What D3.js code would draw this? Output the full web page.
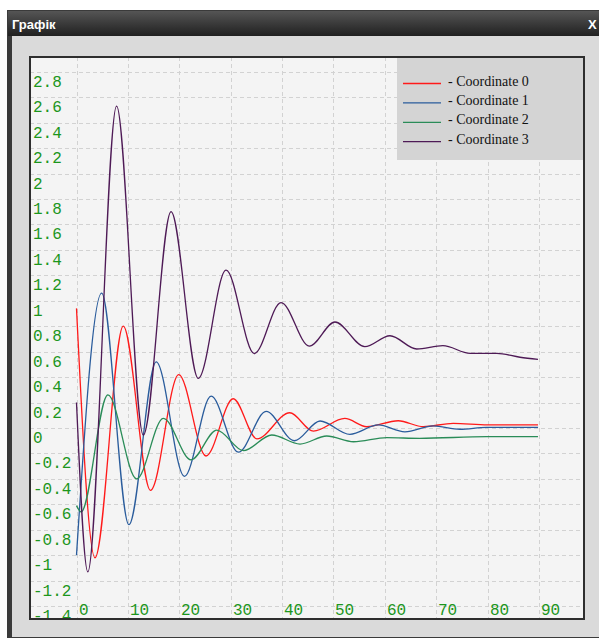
<!DOCTYPE html>
<html>
<head>
<meta charset="utf-8">
<script src="https://cdn.jsdelivr.net/npm/d3@7"></script>
<style>
  body { margin: 0; background: #ffffff; }
  svg { display: block; }
</style>
</head>
<body>
<div id="chart"></div>
<script>
// tick values of the plot
const xTicks = [0, 10, 20, 30, 40, 50, 60, 70, 80, 90];
const yTicks = [2.8, 2.6, 2.4, 2.2, 2, 1.8, 1.6, 1.4, 1.2, 1, 0.8, 0.6, 0.4, 0.2, 0,
  -0.2, -0.4, -0.6, -0.8, -1, -1.2, -1.4];

const seriesNames = ["Coordinate 0", "Coordinate 1", "Coordinate 2", "Coordinate 3"];
const seriesColors = ["#ff1a1a", "#2a5c9c", "#2a8c58", "#4e1a56"];

// [t, value] (turning points mostly)
const coord0 = [[0, 0.94], [3.6, -1.02], [9.1, 0.80], [14.4, -0.49], [19.9, 0.42], [25.2, -0.22],
  [30.5, 0.23], [35.1, -0.085], [41.5, 0.12], [46.1, -0.025], [52.2, 0.075], [56.5, 0.01],
  [62.6, 0.057], [67.5, 0.01], [73.3, 0.037], [80, 0.025], [89.8, 0.025]];
const coord1 = [[0, -1.0], [4.9, 1.06], [10.2, -0.76], [15.5, 0.52], [21.0, -0.38], [26.2, 0.25],
  [31.5, -0.19], [36.9, 0.13], [42.4, -0.10], [47.4, 0.055], [53.2, -0.05], [58.7, 0.024],
  [63.9, -0.03], [69.4, 0.016], [74.6, -0.01], [79.8, 0.005], [89.8, 0.005]];
const coord2 = [[0, -0.61], [0.9, -0.66], [6.1, 0.26], [11.7, -0.40], [16.9, 0.076], [22.3, -0.25],
  [27.3, -0.016], [32.5, -0.178], [38.0, -0.055], [43.5, -0.126], [48.7, -0.063], [53.9, -0.108],
  [60.4, -0.076], [66.8, -0.081], [79.8, -0.068], [89.8, -0.068]];
const coord3 = [[0, 0.2], [2.2, -1.13], [7.8, 2.53], [13.0, -0.055], [18.4, 1.70], [23.7, 0.39],
  [29.1, 1.24], [34.6, 0.585], [39.8, 0.986], [45.3, 0.644], [50.3, 0.833], [56.1, 0.639],
  [61.0, 0.725], [66.2, 0.621], [71.3, 0.647], [76.6, 0.587], [81.8, 0.587], [86.3, 0.556],
  [89.8, 0.54]];

const allSeries = [coord0, coord1, coord2, coord3];

const svgWidth = 599;
const svgHeight = 639;

// plot frame inside the window
const plot = { left: 30, top: 57, right: 584, bottom: 619 };

const svg = d3.select("#chart")
  .append("svg")
  .attr("width", svgWidth)
  .attr("height", svgHeight);

const defs = svg.append("defs");
const grad = defs.append("linearGradient")
  .attr("id", "titleGrad")
  .attr("x1", 0).attr("y1", 0).attr("x2", 0).attr("y2", 1);
grad.append("stop").attr("offset", "0%").attr("stop-color", "#555555");
grad.append("stop").attr("offset", "100%").attr("stop-color", "#202020");

defs.append("clipPath")
  .attr("id", "plotClip")
  .append("rect")
  .attr("x", plot.left + 1)
  .attr("y", plot.top + 1)
  .attr("width", plot.right - plot.left - 2)
  .attr("height", plot.bottom - plot.top - 2);

// window frame
svg.append("rect")
  .attr("x", 7).attr("y", 10)
  .attr("width", svgWidth - 7).attr("height", 628)
  .attr("fill", "#3a3a3a");

svg.append("rect")
  .attr("x", 8).attr("y", 11)
  .attr("width", svgWidth - 8).attr("height", 25)
  .attr("fill", "url(#titleGrad)");

svg.append("rect")
  .attr("x", 12).attr("y", 36)
  .attr("width", svgWidth - 12).attr("height", 601)
  .attr("fill", "#dadada");

svg.append("text")
  .attr("x", 12).attr("y", 29)
  .attr("font-family", "'Liberation Sans', Arial, sans-serif")
  .attr("font-size", "13px")
  .attr("font-weight", "bold")
  .attr("fill", "#ffffff")
  .text("Графік");

svg.append("text")
  .attr("x", 588).attr("y", 29)
  .attr("font-family", "'Liberation Sans', Arial, sans-serif")
  .attr("font-size", "13px")
  .attr("font-weight", "bold")
  .attr("fill", "#ffffff")
  .text("X");

// plot background
svg.append("rect")
  .attr("x", plot.left).attr("y", plot.top)
  .attr("width", plot.right - plot.left)
  .attr("height", plot.bottom - plot.top)
  .attr("fill", "#f4f4f4");

// scales
const xScale = d3.scaleLinear().domain([0, 90]).range([76.5, 539]);
const yScale = d3.scaleLinear().domain([0, 2.8]).range([428, 71.7]);

const inner = svg.append("g").attr("clip-path", "url(#plotClip)");

// dashed grid
inner.selectAll(".vgrid")
  .data(xTicks)
  .enter()
  .append("line")
  .attr("class", "vgrid")
  .attr("x1", d => Math.round(xScale(d)) + 0.5)
  .attr("x2", d => Math.round(xScale(d)) + 0.5)
  .attr("y1", plot.top)
  .attr("y2", plot.bottom)
  .attr("stroke", "#d2d2d2")
  .attr("stroke-dasharray", "4,3");

inner.selectAll(".hgrid")
  .data(yTicks)
  .enter()
  .append("line")
  .attr("class", "hgrid")
  .attr("x1", plot.left)
  .attr("x2", plot.right)
  .attr("y1", d => Math.round(yScale(d)) + 0.5)
  .attr("y2", d => Math.round(yScale(d)) + 0.5)
  .attr("stroke", "#d2d2d2")
  .attr("stroke-dasharray", "4,3");

// tick labels sit inside the plot, below / right of their grid line
inner.selectAll(".ylab")
  .data(yTicks)
  .enter()
  .append("text")
  .attr("class", "ylab")
  .attr("x", 33)
  .attr("y", d => Math.round(yScale(d)) + 15)
  .attr("font-family", "'Liberation Mono', 'Courier New', monospace")
  .attr("font-size", "16px")
  .attr("fill", "#1c961c")
  .text(d => String(d));

inner.selectAll(".xlab")
  .data(xTicks)
  .enter()
  .append("text")
  .attr("class", "xlab")
  .attr("x", d => Math.round(xScale(d)) + 2)
  .attr("y", 615)
  .attr("font-family", "'Liberation Mono', 'Courier New', monospace")
  .attr("font-size", "16px")
  .attr("fill", "#1c961c")
  .text(d => String(d));

// curves
const line = d3.line()
  .x(d => xScale(d[0]))
  .y(d => yScale(d[1]))
  .curve(d3.curveMonotoneX);

inner.selectAll(".series")
  .data(allSeries)
  .enter()
  .append("path")
  .attr("class", "series")
  .attr("d", d => line(d))
  .attr("fill", "none")
  .attr("stroke", (d, i) => seriesColors[i])
  .attr("stroke-width", 1.3);

// legend box in the top right corner
const legend = svg.append("g");
legend.append("rect")
  .attr("x", 397).attr("y", plot.top)
  .attr("width", plot.right - 397)
  .attr("height", 103)
  .attr("fill", "#d4d4d4");

seriesNames.forEach(function (name, i) {
  const ly = 83.5 + i * 19.4;
  legend.append("line")
    .attr("x1", 403).attr("x2", 441)
    .attr("y1", ly).attr("y2", ly)
    .attr("stroke", seriesColors[i])
    .attr("stroke-width", 1.3);
  legend.append("text")
    .attr("x", 448)
    .attr("y", ly + 2)
    .attr("font-family", "'Liberation Serif', 'Times New Roman', serif")
    .attr("font-size", "14px")
    .attr("fill", "#111111")
    .text("- " + name);
});

// plot border
svg.append("rect")
  .attr("x", plot.left).attr("y", plot.top)
  .attr("width", plot.right - plot.left)
  .attr("height", plot.bottom - plot.top)
  .attr("fill", "none")
  .attr("stroke", "#2e2e2e")
  .attr("stroke-width", 2);
</script>
</body>
</html>
